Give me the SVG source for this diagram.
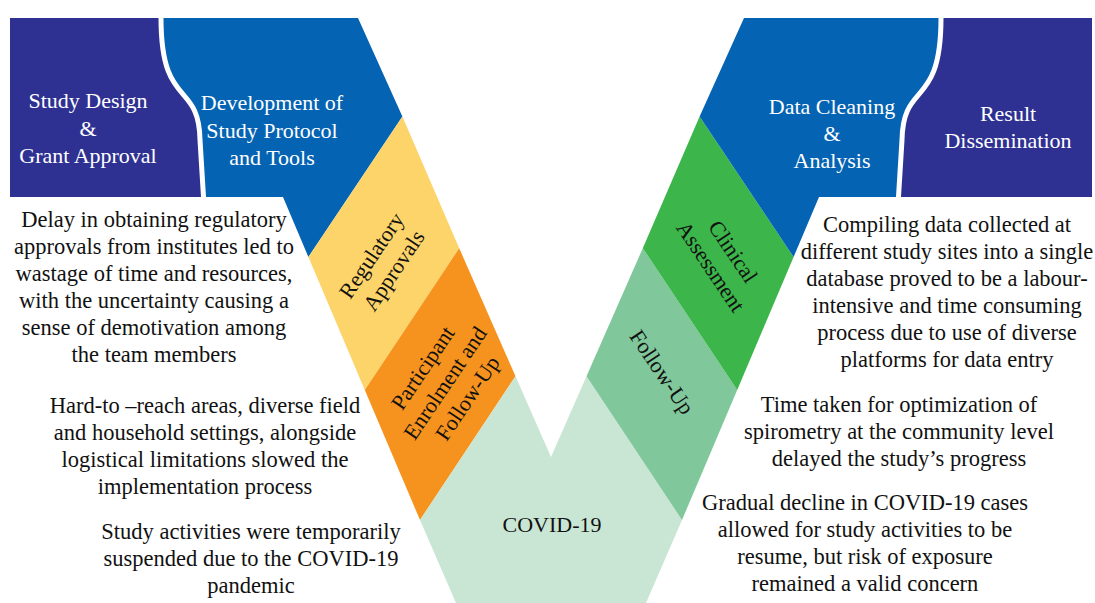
<svg xmlns="http://www.w3.org/2000/svg" width="1095" height="603" viewBox="0 0 1095 603">
<style>
.t{font-family:'Liberation Serif','Times New Roman','DejaVu Serif',serif;font-size:22.5px;fill:#111;text-anchor:middle}
.h{font-family:'Liberation Serif','Times New Roman','DejaVu Serif',serif;font-size:22px;fill:#fff;text-anchor:middle}
.r{font-family:'Liberation Serif','Times New Roman','DejaVu Serif',serif;font-size:22px;fill:#111;text-anchor:middle}
.gap{fill:none;stroke:#fff;stroke-width:5}
</style>
<rect width="1095" height="603" fill="#fff"/>
<g id="connectors"></g>

<g id="study-design">
<rect x="10" y="18" width="200" height="179" fill="#2E3192"/>
<text class="h" x="88" y="108">Study Design</text>
<text class="h" x="88" y="135.5">&amp;</text>
<text class="h" x="88" y="163">Grant Approval</text>
</g>

<g id="protocol">
<path d="M161 18 L358 18 L402.4 116.4 L308.4 257 L283 197 L204 197 L200 140 C199 80 161 110 161 18 Z" fill="#0563B3"/>
<path class="gap" d="M161 8 L161 18 C161 110 199 80 200 140 L204 205"/>
<text class="h" x="272" y="110">Development of</text>
<text class="h" x="272" y="137.5">Study Protocol</text>
<text class="h" x="272" y="165">and Tools</text>
</g>

<g id="regulatory">
<path d="M308.4 257 L402.4 116.4 L459.2 248.2 L364.8 390 Z" fill="#FDD46A"/>
<g transform="translate(382.5 263) rotate(-56)">
<text class="r" x="0" y="-6">Regulatory</text>
<text class="r" x="0" y="21">Approvals</text>
</g>
</g>

<g id="enrolment">
<path d="M364.8 390 L459.2 248.2 L515.5 376.2 L420 520 Z" fill="#F6931E"/>
<g transform="translate(445 383) rotate(-56)">
<text class="r" x="0" y="-19.5">Participant</text>
<text class="r" x="0" y="7.5">Enrolment and</text>
<text class="r" x="0" y="34.5">Follow-Up</text>
</g>
</g>

<g id="covid">
<path d="M420 520 L515.5 376.2 L551 457 L586.5 376.2 L682 520 L646 603 L456 603 Z" fill="#C9E6D4"/>
<text class="r" x="552" y="532">COVID-19</text>
</g>

<g id="follow-up">
<path d="M737.2 390 L642.8 248.2 L586.5 376.2 L682 520 Z" fill="#80C89B"/>
<g transform="translate(662 372) rotate(56)">
<text class="r" x="0" y="7.5">Follow-Up</text>
</g>
</g>

<g id="clinical">
<path d="M793.6 257 L699.6 116.4 L642.8 248.2 L737.2 390 Z" fill="#3CB54A"/>
<g transform="translate(722 259) rotate(56)">
<text class="r" x="0" y="-6">Clinical</text>
<text class="r" x="0" y="21">Assessment</text>
</g>
</g>

<g id="result">
<rect x="892" y="18" width="200" height="179" fill="#2E3192"/>
<text class="h" x="1008" y="121">Result</text>
<text class="h" x="1008" y="148">Dissemination</text>
</g>

<g id="data-cleaning">
<path d="M941 18 L744 18 L699.6 116.4 L793.6 257 L819 197 L898 197 L902 140 C903 80 941 110 941 18 Z" fill="#0563B3"/>
<path class="gap" d="M941 8 L941 18 C941 110 903 80 902 140 L898 205"/>
<text class="h" x="832" y="114">Data Cleaning</text>
<text class="h" x="832" y="141">&amp;</text>
<text class="h" x="832" y="168">Analysis</text>
</g>

<g id="note-regulatory">
<text class="t" x="154" y="227">Delay in obtaining regulatory</text>
<text class="t" x="154" y="254">approvals from institutes  led to</text>
<text class="t" x="154" y="281">wastage of time and  resources,</text>
<text class="t" x="154" y="308">with the uncertainty causing a</text>
<text class="t" x="154" y="335">sense of demotivation among</text>
<text class="t" x="154" y="362">the team members</text>
</g>

<g id="note-enrolment">
<text class="t" x="205" y="413">Hard-to –reach areas, diverse field</text>
<text class="t" x="205" y="440">and household settings, alongside</text>
<text class="t" x="205" y="467">logistical limitations slowed the</text>
<text class="t" x="205" y="494">implementation process</text>
</g>

<g id="note-covid-left">
<text class="t" x="251" y="539">Study activities were temporarily</text>
<text class="t" x="251" y="566">suspended due to the COVID-19</text>
<text class="t" x="251" y="593">pandemic</text>
</g>

<g id="note-data">
<text class="t" x="947" y="232">Compiling data collected at</text>
<text class="t" x="947" y="259">different study sites into a single</text>
<text class="t" x="947" y="286">database proved to be a labour-</text>
<text class="t" x="947" y="313">intensive and time consuming</text>
<text class="t" x="947" y="340">process due to use of diverse</text>
<text class="t" x="947" y="367">platforms for data entry</text>
</g>

<g id="note-clinical">
<text class="t" x="899" y="412">Time taken for optimization of</text>
<text class="t" x="899" y="439">spirometry at the community level</text>
<text class="t" x="899" y="466">delayed the study’s progress</text>
</g>

<g id="note-covid-right">
<text class="t" x="865" y="510">Gradual decline in COVID-19 cases</text>
<text class="t" x="865" y="537">allowed for study activities to be</text>
<text class="t" x="865" y="564">resume, but risk of exposure</text>
<text class="t" x="865" y="591">remained a valid concern</text>
</g>
</svg>
